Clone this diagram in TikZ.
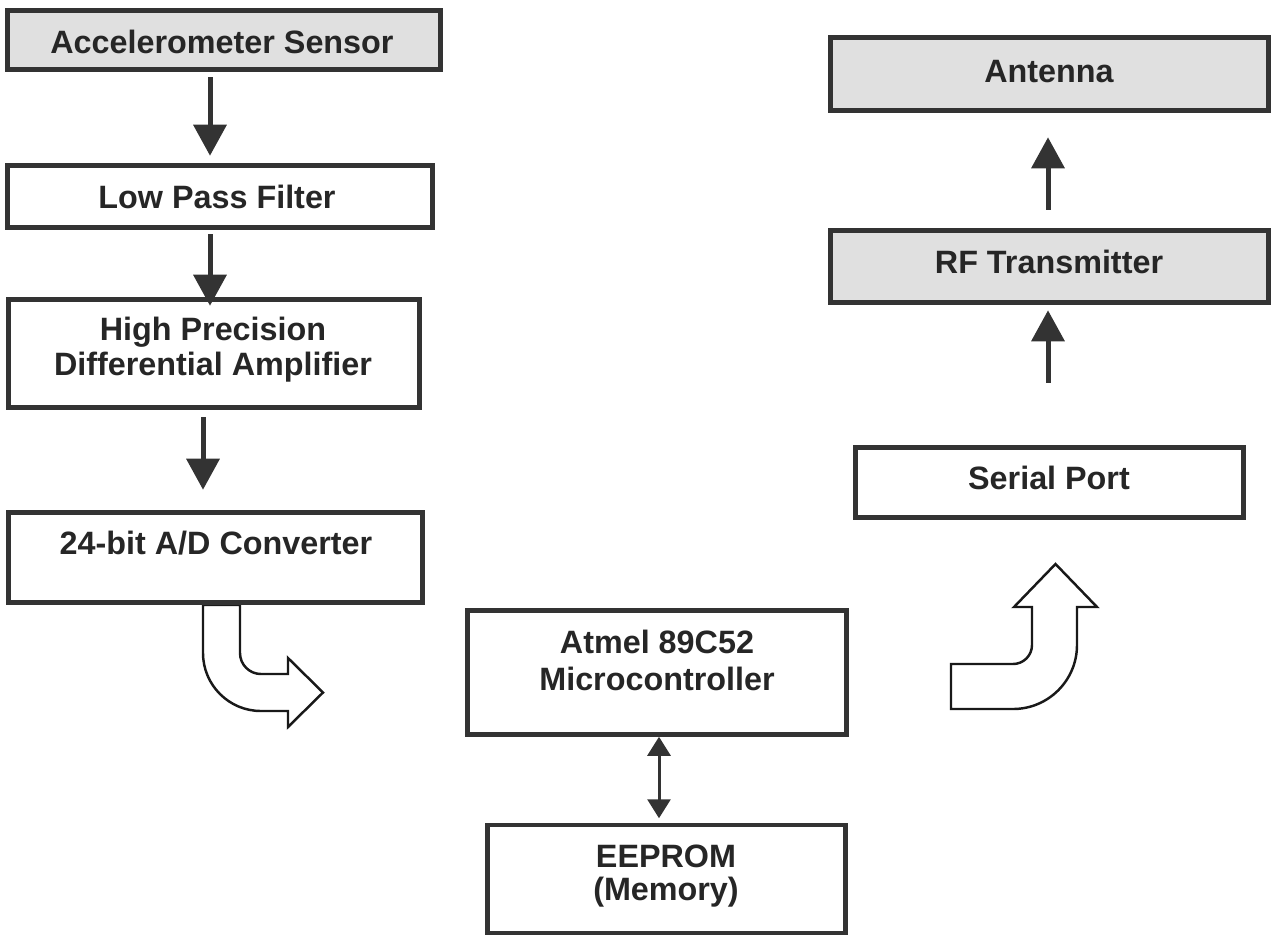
\documentclass[tikz,border=0pt]{standalone}
\usepackage{fontspec}
\setmainfont{Liberation Sans}
\usetikzlibrary{arrows.meta}

\begin{document}
\begin{tikzpicture}[x=0.02cm, y=-0.02cm,
    box/.style={draw=black!80, line width=2.6pt, fill=white, inner sep=0pt},
    shaded/.style={box, fill=black!12},
    lbl/.style={anchor=base, align=center, text=black!85, inner sep=0pt,
      font=\bfseries\fontsize{18.4}{20}\selectfont},
    flow/.style={draw=black!80, line width=0.1cm,
      -{Triangle[width=0.65cm,length=0.62cm]}},
    dflow/.style={draw=black!80, line width=0.06cm,
      {Triangle[width=0.46cm,length=0.38cm]}-{Triangle[width=0.46cm,length=0.38cm]}},
    hollow/.style={draw=black!90, line width=1.4pt, fill=white}]

      \useasboundingbox (0,0) rectangle (1271,938);

      % block arrows
      \draw[hollow] (203,605) -- (203,653) arc[start angle=180, end angle=90, radius=58]
        -- (288,711) -- (288,727) -- (323,692.5) -- (288,658) -- (288,674)
        -- (261,674) arc[start angle=90, end angle=180, radius=21] -- (240,605) -- cycle;
      \draw[hollow] (951,664) -- (1013,664) arc[start angle=90, end angle=0, radius=19]
        -- (1032,607) -- (1014,607) -- (1055.5,564) -- (1097,607) -- (1077,607)
        -- (1077,645) arc[start angle=0, end angle=90, radius=64] -- (951,709) -- cycle;

      % left column
      \node[shaded, minimum width=8.66cm, minimum height=1.18cm] (sensor) at (224,40) {};
      \node[box, minimum width=8.5cm, minimum height=1.24cm] (lpf) at (220,196.5) {};
      \node[box, minimum width=8.22cm, minimum height=2.16cm] (amp) at (214,353.5) {};
      \node[box, minimum width=8.28cm, minimum height=1.8cm] (adc) at (215.5,557.5) {};

      \node[lbl] (sensor-t) at (222,53) {Accelerometer Sensor};
      \node[lbl] (lpf-t) at (217,208) {Low Pass Filter};
      \node[lbl] (amp-t) at (213,375) {High Precision\\[-0.5pt]Differential Amplifier};
      \node[lbl] (adc-t) at (216,554) {24-bit A/D Converter};

      % middle
      \node[box, minimum width=7.58cm, minimum height=2.48cm] (micro) at (657,672.5) {};
      \node[box, minimum width=7.16cm, minimum height=2.16cm] (eeprom) at (666.5,879) {};

      \node[lbl] (micro-t) at (657,690) {Atmel 89C52\\[1pt]Microcontroller};
      \node[lbl] (eeprom-t) at (666,900) {EEPROM\\[-1.5pt](Memory)};

      % right column
      \node[shaded, minimum width=8.76cm, minimum height=1.46cm] (antenna) at (1049.5,74) {};
      \node[shaded, minimum width=8.76cm, minimum height=1.44cm] (rf) at (1049.5,266.5) {};
      \node[box, minimum width=7.76cm, minimum height=1.4cm] (serial) at (1049.5,482.5) {};

      \node[lbl] (antenna-t) at (1049,82) {Antenna};
      \node[lbl] (rf-t) at (1049,273) {RF Transmitter};
      \node[lbl] (serial-t) at (1049,489) {Serial Port};

      % connectors
      \draw[flow, shorten <=0.11cm, shorten >=0.15cm] (210,0 |- sensor.south) -- (210,0 |- lpf.north);
      \draw[flow, shorten <=0.09cm, shorten >=-0.17cm] (210,0 |- lpf.south) -- (210,0 |- amp.north);
      \draw[flow, shorten <=0.15cm, shorten >=0.41cm] (203,0 |- amp.south) -- (203,0 |- adc.north);
      \draw[dflow, shorten >=0.09cm] (659,0 |- micro.south) -- (659,0 |- eeprom.north);
      \draw[flow, shorten <=1.25cm, shorten >=0.11cm] (1048,0 |- serial.north) -- (1048,0 |- rf.south);
      \draw[flow, shorten <=0.37cm, shorten >=0.49cm] (1048,0 |- rf.north) -- (1048,0 |- antenna.south);
    \end{tikzpicture}
\end{document}
